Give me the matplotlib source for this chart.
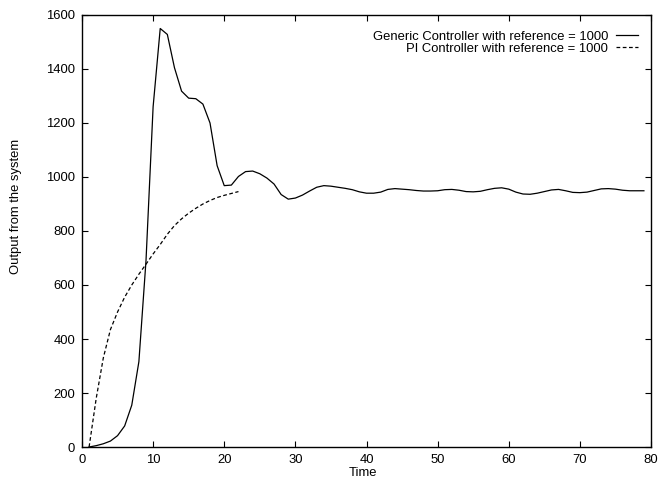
import matplotlib
matplotlib.use("Agg")
import matplotlib.pyplot as plt
import numpy as np

plt.rcParams['font.family'] = ['Liberation Sans', 'DejaVu Sans']

# generic controller, one sample per time step
t_generic = np.arange(1, 80)
y_generic = [0, 5, 12, 22, 42, 78, 155, 316, 690, 1260,
             1550, 1528, 1405, 1318, 1292, 1290, 1270, 1200, 1042, 968,
             970, 1002, 1020, 1022, 1012, 996, 974, 935, 918, 922,
             933, 948, 962, 968, 966, 962, 958, 953, 945, 940,
             940, 944, 954, 957, 955, 953, 950, 948, 948, 949,
             953, 954, 951, 946, 945, 947, 953, 958, 960, 955,
             944, 937, 936, 940, 946, 952, 954, 949, 943, 942,
             944, 950, 956, 957, 955, 951, 949, 949, 949]

# PI controller
t_pi = np.arange(1, 23)
y_pi = [0, 180, 330, 435, 500, 555, 600, 640, 677, 715,
        750, 788, 820, 845, 866, 884, 900, 913, 924, 932,
        939, 946]

fs = 9.4

fig = plt.figure(figsize=(6.59, 4.79), dpi=100)
ax = fig.add_axes([0.1244, 0.0668, 0.8635, 0.9019])

ax.plot(t_generic, y_generic, color='black', lw=0.9,
        label='Generic Controller with reference = 1000')
ax.plot(t_pi, y_pi, color='black', lw=0.9, linestyle=(0, (3, 2)),
        label='PI Controller with reference = 1000')

ax.set_xlim(0, 80)
ax.set_ylim(0, 1600)
ax.set_xticks(np.arange(0, 81, 10))
ax.set_yticks(np.arange(0, 1601, 200))
ax.tick_params(direction='in', top=True, right=True, length=4,
               labelsize=fs, width=0.8, pad=5)
for s in ax.spines.values():
    s.set_linewidth(1.0)

ax.set_xlabel('Time', fontsize=fs)
ax.set_ylabel('Output from the system', fontsize=fs)
ax.xaxis.set_label_coords(0.494, -0.06)
ax.xaxis.label.set_va('center')
ax.yaxis.set_label_coords(-0.116, 0.557)
ax.yaxis.label.set_va('center')

leg = ax.legend(loc='upper right', bbox_to_anchor=(0.977, 0.964),
                frameon=False, markerfirst=False, fontsize=fs,
                handlelength=1.67, handletextpad=0.6,
                labelspacing=0.0, borderaxespad=0.0, borderpad=0.0)
for txt in leg.get_texts():
    txt.set_ha('right')
leg._legend_box.align = 'right'

fig.savefig('out.png', dpi=100)
